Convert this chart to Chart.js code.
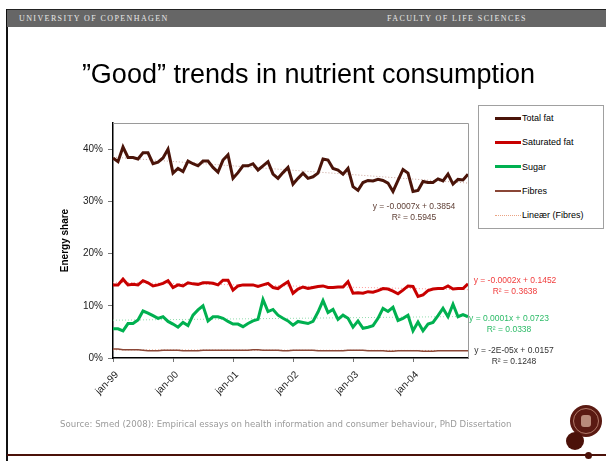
<!DOCTYPE html>
<html lang="en">
<head>
<meta charset="UTF-8">
<meta name="viewport" content="width=device-width, initial-scale=1.0">
<title>Good trends in nutrient consumption</title>
<script src="https://cdn.jsdelivr.net/npm/chart.js"></script>
<style>
  html, body { margin: 0; padding: 0; background: #fff; }
  body { position: relative; width: 606px; height: 461px; overflow: hidden; font-family: "Liberation Sans", Arial, sans-serif; }
  #chartBox { position: absolute; left: 0; top: 0; width: 606px; height: 461px; }
  .rule { position: absolute; }
  #bar { position: absolute; left: 7px; top: 9px; width: 599px; height: 17px; background: #666; border-top: 1px solid #222; }
  #bar span { position: absolute; top: 5px; font-family: "Liberation Serif", "Times New Roman", serif; font-size: 8px; line-height: 8px; letter-spacing: 1.4px; color: #e8e8e8; white-space: nowrap; }
  #title { position: absolute; left: 0; width: 617px; top: 61px; text-align: center; font-size: 27px; line-height: 27px; color: #000; white-space: nowrap; }
  #source { position: absolute; left: 60px; top: 419px; font-family: "DejaVu Sans", Verdana, sans-serif; font-size: 8.6px; line-height: 10px; color: #9a9a9a; white-space: nowrap; }
  #legend { position: absolute; left: 478px; top: 105px; width: 124px; height: 122px; border: 1px solid #a0a0a0; background: #fff; }
  .entry { position: absolute; left: 16px; height: 12px; display: flex; align-items: center; font-size: 9px; color: #000; white-space: nowrap; }
  .swatch { width: 26px; margin-right: 1px; }
  .dot { position: absolute; border-radius: 50%; background: #4b1109; }
</style>
</head>
<body>
  <div id="chartBox"><canvas id="trendChart" width="606" height="461"></canvas></div>

  <div class="rule" style="left:6px; top:9px; width:2px; height:452px; background:#111;"></div>
  <div class="rule" style="left:7px; top:454px; width:599px; height:2px; background:#4b1109;"></div>
  <div id="bar">
    <span style="left:12px;">UNIVERSITY OF COPENHAGEN</span>
    <span style="left:380px;">FACULTY OF LIFE SCIENCES</span>
  </div>

  <div id="title">”Good” trends in nutrient consumption</div>
  <div id="legend"></div>
  <div id="source">Source: Smed (2008): Empirical essays on health information and consumer behaviour, PhD Dissertation</div>

  <div class="dot" style="left:570px; top:405px; width:32px; height:32px; background:#5a1a12;">
    <div style="position:absolute; left:3px; top:3px; width:24px; height:24px; border:1px solid #b07868; border-radius:50%;"></div>
    <div style="position:absolute; left:11px; top:10px; width:10px; height:12px; background:#b88a7a; border-radius:3px;"></div>
  </div>
  <div class="dot" style="left:566px; top:432px; width:18px; height:18px;"></div>
  <div class="dot" style="left:585px; top:452px; width:7px; height:7px;"></div>

  <script>
    // month categories, jan-99 .. dec-04
    const monthNames = ['jan', 'feb', 'mar', 'apr', 'maj', 'jun', 'jul', 'aug', 'sep', 'okt', 'nov', 'dec'];
    const years = ['99', '00', '01', '02', '03', '04'];
    const months = [];
    years.forEach(y => monthNames.forEach(m => months.push(m + '-' + y)));

    const seriesNames = ['Total fat', 'Saturated fat', 'Sugar', 'Fibres'];
    const trendLegend = 'Lineær (Fibres)';

    // energy share in %
    const totalFat = [38.3, 37.6, 40.4, 38.4, 38.4, 38.1, 39.3, 39.3, 37.2, 37.5,
                      38.3, 40.0, 35.4, 36.3, 35.7, 37.7, 37.2, 36.8, 37.7, 37.7,
                      36.5, 35.6, 37.9, 38.9, 34.4, 35.5, 36.8, 36.8, 37.2, 36.0,
                      36.8, 37.6, 35.2, 34.4, 35.5, 36.5, 33.3, 34.4, 35.4, 34.4,
                      34.7, 35.4, 38.1, 37.9, 36.3, 36.0, 35.2, 36.3, 32.8, 32.1,
                      33.6, 34.0, 33.9, 34.2, 34.0, 33.5, 31.9, 34.0, 36.1, 35.4,
                      31.9, 32.1, 33.8, 33.6, 33.6, 34.3, 33.9, 35.2, 33.3, 34.2,
                      34.1, 35.2];
    const satFat = [14.0, 14.0, 15.1, 14.0, 14.1, 14.0, 14.8, 14.4, 13.8, 14.0,
                    14.3, 14.8, 13.5, 14.0, 13.8, 14.4, 14.2, 14.1, 14.4, 14.4,
                    14.3, 14.0, 14.9, 14.9, 13.0, 13.8, 14.0, 14.0, 14.0, 13.7,
                    14.0, 14.3, 13.5, 13.3, 14.0, 14.6, 12.4, 13.2, 13.6, 13.3,
                    13.5, 13.7, 13.8, 13.5, 13.5, 13.6, 13.6, 14.6, 12.4, 12.5,
                    12.4, 12.7, 12.6, 12.9, 13.3, 13.2, 12.8, 12.3, 13.0, 13.8,
                    13.7, 11.8, 12.1, 12.9, 13.2, 13.3, 13.3, 13.8, 13.2, 13.3,
                    13.3, 14.2];
    const sugar = [5.6, 5.6, 5.2, 6.6, 6.6, 7.3, 9.0, 8.6, 8.1, 7.6,
                   7.9, 7.0, 6.5, 5.9, 6.8, 6.2, 8.2, 9.2, 10.0, 7.1,
                   7.9, 7.9, 7.6, 7.0, 6.5, 6.5, 6.0, 6.6, 7.1, 7.4,
                   11.2, 8.9, 9.3, 8.2, 7.6, 7.1, 6.3, 7.0, 6.8, 6.6,
                   7.0, 8.8, 11.0, 8.7, 9.3, 7.4, 8.2, 7.6, 5.9, 7.1,
                   5.7, 5.9, 6.2, 7.6, 9.5, 8.9, 9.7, 7.2, 7.6, 8.2,
                   5.2, 6.9, 5.2, 6.5, 6.8, 8.1, 9.5, 7.9, 10.3, 7.9,
                   8.3, 7.9];
    const fibres = [1.7, 1.7, 1.6, 1.6, 1.6, 1.6, 1.5, 1.4, 1.4, 1.4,
                    1.5, 1.5, 1.5, 1.5, 1.4, 1.4, 1.4, 1.4, 1.5, 1.5,
                    1.5, 1.5, 1.5, 1.5, 1.5, 1.5, 1.5, 1.5, 1.6, 1.6,
                    1.5, 1.5, 1.5, 1.5, 1.4, 1.4, 1.5, 1.5, 1.5, 1.5,
                    1.5, 1.4, 1.4, 1.4, 1.4, 1.4, 1.4, 1.5, 1.5, 1.5,
                    1.5, 1.4, 1.4, 1.4, 1.4, 1.3, 1.3, 1.4, 1.4, 1.4,
                    1.4, 1.4, 1.3, 1.3, 1.3, 1.4, 1.4, 1.4, 1.4, 1.4,
                    1.4, 1.4];

    // linear trendlines as printed on the slide (x = 1..72, share as fraction)
    const trendSlope = [-0.0007, -0.0002, 0.0001, -0.00002];
    const trendIntercept = [0.3854, 0.1452, 0.0723, 0.0157];
    const eqText = ['y = -0.0007x + 0.3854', 'y = -0.0002x + 0.1452', 'y = 0.0001x + 0.0723', 'y = -2E-05x + 0.0157'];
    const r2Text = ['R² = 0.5945', 'R² = 0.3638', 'R² = 0.0338', 'R² = 0.1248'];

    const yTicks = [0, 10, 20, 30, 40];

    const lineColors = ['#4a1409', '#c80000', '#00b050', '#8a4636'];
    const lineWidths = [3, 3, 3, 1.5];
    const trendColors = ['#c9a59c', '#ff9a9a', '#92dcae', '#eaa383'];
    const eqColors = ['#5e3e34', '#f03c3c', '#2dbb68', '#333333'];

    const seriesData = [totalFat, satFat, sugar, fibres];
    const last = months.length - 1;

    const datasets = [];
    seriesData.forEach((vals, k) => {
      datasets.push({
        label: seriesNames[k],
        data: vals,
        borderColor: lineColors[k],
        borderWidth: lineWidths[k],
        pointRadius: 0,
        tension: 0,
        order: 1
      });
    });
    seriesData.forEach((vals, k) => {
      datasets.push({
        label: 'Lineær (' + seriesNames[k] + ')',
        data: months.map((m, i) => (i === 0 || i === last) ? 100 * (trendIntercept[k] + trendSlope[k] * (i + 1)) : null),
        spanGaps: true,
        borderColor: trendColors[k],
        borderWidth: 1,
        borderDash: [1, 2],
        pointRadius: 0,
        order: 2
      });
    });

    // legend box (html)
    const legendEl = document.getElementById('legend');
    const legendRows = seriesNames.map((n, k) => ({ name: n, color: lineColors[k], width: lineWidths[k], dotted: false }));
    legendRows.push({ name: trendLegend, color: trendColors[3], width: 1, dotted: true });
    legendRows.forEach((r, i) => {
      const row = document.createElement('div');
      row.className = 'entry';
      row.style.top = (6 + i * 24.3) + 'px';
      const sw = document.createElement('div');
      sw.className = 'swatch';
      if (r.dotted) {
        sw.style.borderTop = '1px dotted ' + r.color;
      } else {
        sw.style.height = r.width + 'px';
        sw.style.background = r.color;
      }
      row.appendChild(sw);
      row.appendChild(document.createTextNode(r.name));
      legendEl.appendChild(row);
    });

    // plot frame and trendline equations
    const frameAndLabels = {
      id: 'frameAndLabels',
      afterDatasetsDraw(chart) {
        const { ctx, chartArea: a } = chart;
        ctx.save();
        ctx.strokeStyle = '#9a9a9a';
        ctx.lineWidth = 1;
        ctx.beginPath();
        ctx.moveTo(a.left, a.top + 0.5);
        ctx.lineTo(a.right + 0.5, a.top + 0.5);
        ctx.lineTo(a.right + 0.5, a.bottom);
        ctx.stroke();

        const spots = [[a.right - 54, 207], [a.right + 47, 281], [a.right + 41, 319], [a.right + 46, 351]];
        ctx.font = '8.5px "Liberation Sans", Arial, sans-serif';
        ctx.textAlign = 'center';
        ctx.textBaseline = 'middle';
        spots.forEach((p, k) => {
          ctx.fillStyle = eqColors[k];
          ctx.fillText(eqText[k], p[0], p[1]);
          ctx.fillText(r2Text[k], p[0], p[1] + 10.5);
        });
        ctx.restore();
      }
    };

    Chart.defaults.font.family = '"Liberation Sans", Arial, sans-serif';

    new Chart(document.getElementById('trendChart'), {
      type: 'line',
      data: { labels: months, datasets: datasets },
      options: {
        responsive: false,
        animation: false,
        layout: { padding: { left: 0, top: 123, right: 138, bottom: 0 } },
        plugins: { legend: { display: false }, tooltip: { enabled: false } },
        scales: {
          x: {
            offset: false,
            border: { color: '#000', width: 1.5 },
            grid: {
              drawOnChartArea: false,
              tickLength: 4,
              color: c => (c.index % 12 === 0 ? '#777' : 'rgba(0,0,0,0)')
            },
            ticks: {
              autoSkip: false,
              minRotation: 45,
              maxRotation: 45,
              padding: 7,
              labelOffset: 4,
              color: '#222',
              font: { size: 10 },
              callback: function (v, i) { return i % 12 === 0 ? months[i] : ''; }
            },
            afterFit: s => { s.height = 103; }
          },
          y: {
            min: 0,
            max: 45,
            border: { color: '#000', width: 1.5 },
            grid: { drawOnChartArea: false, tickLength: 5, color: '#777' },
            afterBuildTicks: s => { s.ticks = yTicks.map(v => ({ value: v })); },
            ticks: {
              padding: 5,
              color: '#222',
              font: { size: 10 },
              callback: v => v + '%'
            },
            title: {
              display: true,
              text: 'Energy share',
              color: '#000',
              font: { size: 10, weight: 'bold' },
              padding: { top: 59 }
            },
            afterFit: s => { s.width = 113; }
          }
        }
      },
      plugins: [frameAndLabels]
    });
  </script>
</body>
</html>
